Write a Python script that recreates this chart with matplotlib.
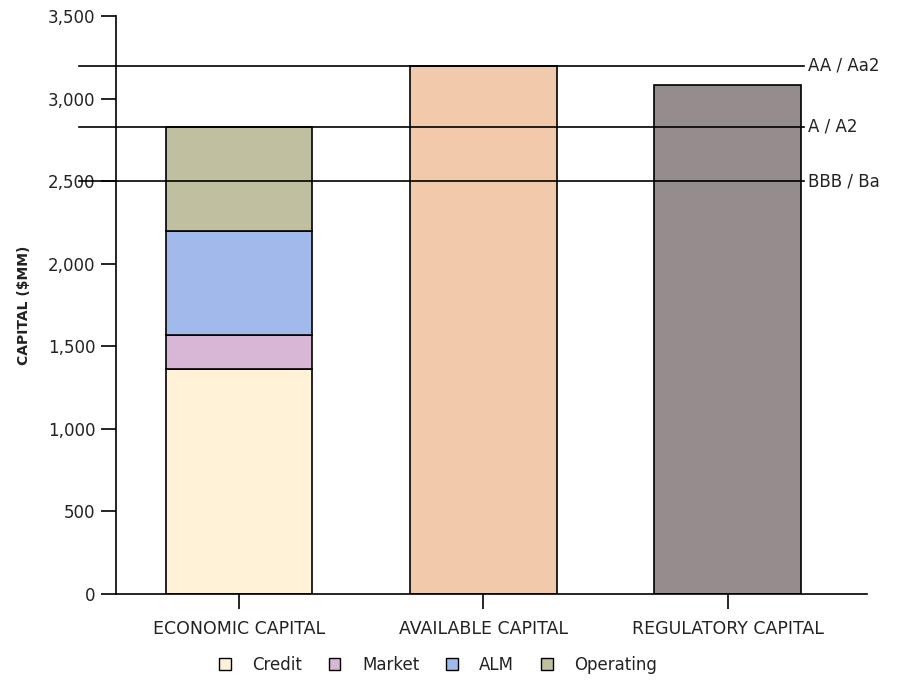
import matplotlib
matplotlib.use("Agg")
import matplotlib.pyplot as plt
from matplotlib.patches import Patch

categories = ["ECONOMIC CAPITAL", "AVAILABLE CAPITAL", "REGULATORY CAPITAL"]
components = ["Credit", "Market", "ALM", "Operating"]
economic_values = [1360, 210, 630, 630]
available_value = 3200
regulatory_value = 3085
rating_labels = ["AA / Aa2", "A / A2", "BBB / Ba"]
rating_levels = [3200, 2830, 2500]
yticks = [0, 500, 1000, 1500, 2000, 2500, 3000, 3500]

comp_colors = ["#FFF2D6", "#D7B7D5", "#A2BAEB", "#C0C0A0"]
avail_color = "#F0CAAA"
reg_color = "#958C8E"
text_color = "#222222"

plt.rcParams['font.family'] = ['DejaVu Sans']

fig = plt.figure(figsize=(8.97, 6.81), dpi=100)
ax = fig.add_axes([0.1293, 0.1278, 0.9666 - 0.1293, 0.9765 - 0.1278])

width = 0.6
bottom = 0
for val, col in zip(economic_values, comp_colors):
    ax.bar(0, val, width, bottom=bottom, color=col, edgecolor="black", linewidth=1.2, zorder=2)
    bottom += val
ax.bar(1, available_value, width, color=avail_color, edgecolor="black", linewidth=1.2, zorder=2)
ax.bar(2, regulatory_value, width, color=reg_color, edgecolor="black", linewidth=1.2, zorder=2)

for lab, lvl in zip(rating_labels, rating_levels):
    ax.plot([-0.656, 2.31], [lvl, lvl], color="black", linewidth=1.2, clip_on=False, zorder=3)
    ax.text(2.33, lvl, lab, va="center", ha="left", fontsize=12, color=text_color)

ax.set_xlim(-0.504, 2.57)
ax.set_ylim(0, 3500)
ax.set_yticks(yticks)
ax.set_yticklabels([f"{v:,}" for v in yticks], fontsize=12, color=text_color)
ax.set_xticks(range(len(categories)))
ax.set_xticklabels(categories, fontsize=12.5, color=text_color)
ax.tick_params(axis="y", length=11, width=1.2, pad=4)
ax.tick_params(axis="x", length=11, width=1.2, pad=8)
ax.spines["top"].set_visible(False)
ax.spines["right"].set_visible(False)
ax.spines["left"].set_linewidth(1.2)
ax.spines["bottom"].set_linewidth(1.2)
ax.set_ylabel("CAPITAL ($MM)", fontsize=10, fontweight="semibold", color=text_color, labelpad=12)

handles = [Patch(facecolor=c, edgecolor="black", linewidth=1.0) for c in comp_colors]
fig.legend(handles, components, loc="center", bbox_to_anchor=(438 / 897, 1 - 665 / 681),
           ncol=4, frameon=False, fontsize=12, handlelength=0.7, handleheight=0.7,
           handletextpad=1.3, columnspacing=1.6, labelcolor=text_color)

fig.savefig("out.png", dpi=100, facecolor="white")
